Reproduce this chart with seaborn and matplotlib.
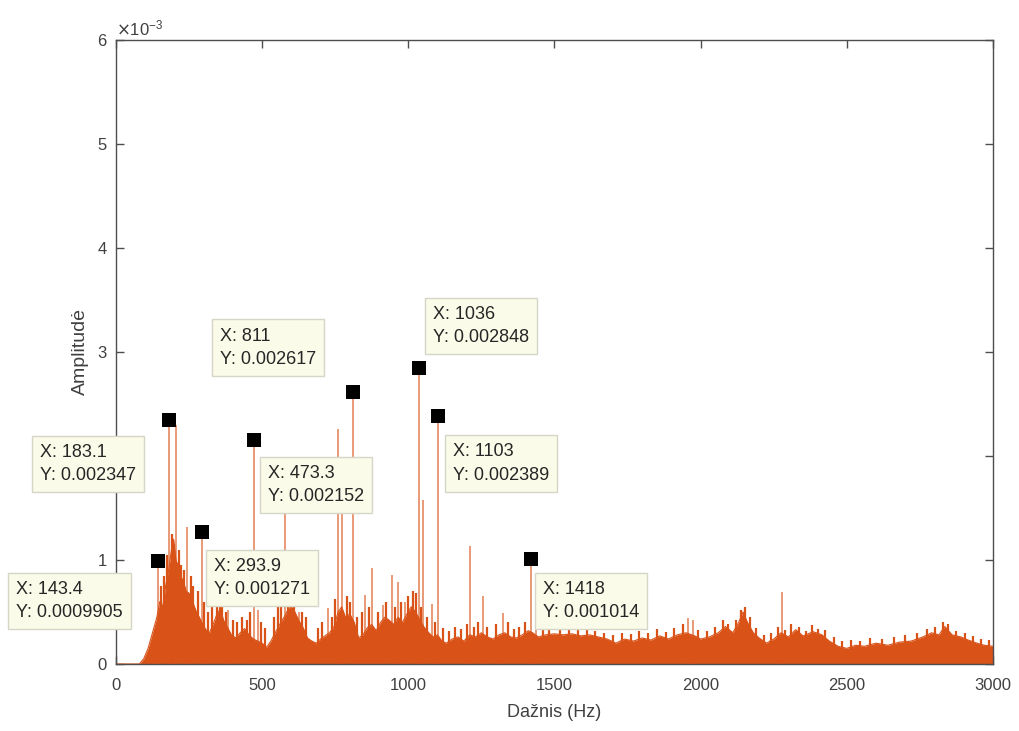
import numpy as np
import pandas as pd
import matplotlib
matplotlib.use("Agg")
import matplotlib.pyplot as plt
import seaborn as sns

# ---------------- data ----------------
# broadband spectrum envelope (Hz, amplitude)
env_freq = [0, 80, 95, 110, 125, 140, 150, 160, 170, 180, 190, 197, 205, 212, 220, 230,
            240, 250, 262, 275, 285, 297, 310, 320, 335, 348, 358, 368, 380, 395, 410,
            425, 440, 455, 470, 485, 500, 515, 530, 545, 560, 575, 590, 600, 612, 625,
            640, 655, 670, 685, 700, 715, 730, 745, 760, 772, 785, 800, 815, 830, 845,
            860, 875, 890, 905, 920, 935, 950, 965, 980, 995, 1010, 1025, 1040, 1055,
            1070, 1085, 1100, 1115, 1130, 1150, 1170, 1190, 1210, 1230, 1250, 1270, 1290,
            1310, 1330, 1350, 1370, 1390, 1410, 1425, 1445, 1470, 1500, 1530, 1560, 1590,
            1620, 1650, 1680, 1710, 1740, 1770, 1800, 1830, 1860, 1890, 1920, 1950, 1980,
            2000, 2030, 2060, 2085, 2110, 2130, 2145, 2160, 2180, 2200, 2225, 2250, 2275,
            2300, 2325, 2350, 2385, 2415, 2440, 2470, 2500, 2530, 2560, 2600, 2640, 2680,
            2720, 2760, 2790, 2815, 2835, 2860, 2890, 2915, 2945, 2970, 3000]
env_amp = [0.0, 0.0, 0.05e-3, 0.15e-3, 0.30e-3, 0.45e-3, 0.60e-3, 0.55e-3, 0.75e-3, 0.90e-3,
           1.10e-3, 1.20e-3, 1.00e-3, 0.95e-3, 0.85e-3, 0.80e-3, 0.70e-3, 0.68e-3, 0.60e-3,
           0.50e-3, 0.45e-3, 0.38e-3, 0.32e-3, 0.30e-3, 0.40e-3, 0.50e-3, 0.52e-3, 0.42e-3,
           0.36e-3, 0.28e-3, 0.25e-3, 0.30e-3, 0.34e-3, 0.28e-3, 0.24e-3, 0.22e-3, 0.20e-3,
           0.16e-3, 0.22e-3, 0.30e-3, 0.38e-3, 0.45e-3, 0.53e-3, 0.55e-3, 0.50e-3, 0.42e-3,
           0.35e-3, 0.25e-3, 0.22e-3, 0.20e-3, 0.24e-3, 0.27e-3, 0.30e-3, 0.35e-3, 0.50e-3,
           0.55e-3, 0.45e-3, 0.48e-3, 0.40e-3, 0.25e-3, 0.28e-3, 0.35e-3, 0.38e-3, 0.32e-3,
           0.40e-3, 0.45e-3, 0.42e-3, 0.38e-3, 0.45e-3, 0.40e-3, 0.48e-3, 0.55e-3, 0.50e-3,
           0.42e-3, 0.35e-3, 0.30e-3, 0.26e-3, 0.28e-3, 0.22e-3, 0.20e-3, 0.24e-3, 0.26e-3,
           0.22e-3, 0.28e-3, 0.26e-3, 0.30e-3, 0.26e-3, 0.24e-3, 0.28e-3, 0.30e-3, 0.26e-3,
           0.25e-3, 0.28e-3, 0.32e-3, 0.30e-3, 0.26e-3, 0.28e-3, 0.29e-3, 0.28e-3, 0.29e-3,
           0.27e-3, 0.28e-3, 0.26e-3, 0.24e-3, 0.20e-3, 0.24e-3, 0.22e-3, 0.25e-3, 0.23e-3,
           0.27e-3, 0.24e-3, 0.28e-3, 0.30e-3, 0.27e-3, 0.24e-3, 0.26e-3, 0.30e-3, 0.36e-3,
           0.30e-3, 0.40e-3, 0.50e-3, 0.40e-3, 0.30e-3, 0.25e-3, 0.20e-3, 0.24e-3, 0.30e-3,
           0.26e-3, 0.33e-3, 0.27e-3, 0.31e-3, 0.28e-3, 0.22e-3, 0.17e-3, 0.15e-3, 0.18e-3,
           0.17e-3, 0.20e-3, 0.18e-3, 0.21e-3, 0.22e-3, 0.26e-3, 0.30e-3, 0.28e-3, 0.36e-3,
           0.28e-3, 0.26e-3, 0.23e-3, 0.20e-3, 0.18e-3, 0.17e-3]

# small ragged lines riding on the broadband floor (Hz, amplitude)
minor_freq = [155, 165, 175, 190, 198, 215, 222, 232, 255, 265, 280, 300, 315, 330, 345,
              355, 362, 375, 400, 415, 432, 448, 460, 495, 510, 540, 555, 565, 590, 610,
              635, 650, 690, 705, 740, 750, 790, 800, 825, 840, 865, 895, 925, 955, 975,
              1000, 1015, 1025, 1045, 1065, 1092, 1120, 1140, 1160, 1180, 1200, 1225, 1240,
              1270, 1300, 1340, 1360, 1380, 1400, 1460, 1480, 1520, 1550, 1580, 1610, 1640,
              1670, 1700, 1730, 1760, 1790, 1820, 1850, 1880, 1910, 1940, 1990, 2020, 2050,
              2075, 2095, 2120, 2138, 2150, 2170, 2190, 2215, 2240, 2265, 2290, 2310, 2335,
              2360, 2380, 2400, 2425, 2455, 2485, 2515, 2545, 2580, 2620, 2660, 2700, 2740,
              2775, 2800, 2828, 2845, 2875, 2905, 2930, 2960, 2985]
minor_amp = [0.75e-3, 0.85e-3, 1.05e-3, 1.25e-3, 1.15e-3, 1.10e-3, 0.95e-3, 0.90e-3, 0.85e-3,
             0.75e-3, 0.70e-3, 0.60e-3, 0.50e-3, 0.55e-3, 0.62e-3, 0.60e-3, 0.55e-3, 0.50e-3,
             0.42e-3, 0.40e-3, 0.45e-3, 0.42e-3, 0.50e-3, 0.40e-3, 0.35e-3, 0.45e-3, 0.55e-3,
             0.60e-3, 0.68e-3, 0.62e-3, 0.50e-3, 0.45e-3, 0.35e-3, 0.40e-3, 0.45e-3, 0.62e-3,
             0.65e-3, 0.60e-3, 0.45e-3, 0.50e-3, 0.55e-3, 0.50e-3, 0.60e-3, 0.55e-3, 0.60e-3,
             0.65e-3, 0.70e-3, 0.68e-3, 0.55e-3, 0.45e-3, 0.40e-3, 0.35e-3, 0.32e-3, 0.36e-3,
             0.34e-3, 0.38e-3, 0.36e-3, 0.40e-3, 0.36e-3, 0.38e-3, 0.40e-3, 0.34e-3, 0.36e-3,
             0.40e-3, 0.36e-3, 0.35e-3, 0.34e-3, 0.36e-3, 0.34e-3, 0.35e-3, 0.32e-3, 0.30e-3,
             0.28e-3, 0.30e-3, 0.29e-3, 0.32e-3, 0.30e-3, 0.34e-3, 0.31e-3, 0.35e-3, 0.38e-3,
             0.33e-3, 0.32e-3, 0.36e-3, 0.42e-3, 0.38e-3, 0.42e-3, 0.52e-3, 0.55e-3, 0.45e-3,
             0.35e-3, 0.28e-3, 0.30e-3, 0.36e-3, 0.33e-3, 0.38e-3, 0.36e-3, 0.32e-3, 0.37e-3,
             0.34e-3, 0.33e-3, 0.26e-3, 0.22e-3, 0.23e-3, 0.22e-3, 0.25e-3, 0.24e-3, 0.26e-3,
             0.28e-3, 0.30e-3, 0.34e-3, 0.36e-3, 0.40e-3, 0.38e-3, 0.32e-3, 0.30e-3, 0.27e-3,
             0.24e-3, 0.23e-3]

# narrow spectral lines (Hz, amplitude)
spike_freq = [143.4, 183.1, 204, 243, 293.9, 384, 473.3, 486, 578, 600, 625, 726, 760, 773,
              811, 852, 876, 914, 944, 965, 988, 1036, 1050, 1081, 1103, 1211, 1256, 1324,
              1418, 1437, 1957, 1974, 2278]
spike_amp = [0.9905e-3, 2.347e-3, 2.30e-3, 1.32e-3, 1.271e-3, 0.52e-3, 2.152e-3, 0.52e-3,
             1.45e-3, 0.55e-3, 0.50e-3, 0.54e-3, 2.26e-3, 1.45e-3, 2.617e-3, 0.66e-3,
             0.92e-3, 0.57e-3, 0.86e-3, 0.79e-3, 0.60e-3, 2.848e-3, 1.58e-3, 0.58e-3,
             2.389e-3, 1.13e-3, 0.65e-3, 0.49e-3, 1.014e-3, 0.65e-3, 0.44e-3, 0.42e-3, 0.69e-3]

# data tips
tip_freq = [143.4, 183.1, 293.9, 473.3, 811, 1036, 1103, 1418]
tip_amp = [0.0009905, 0.002347, 0.001271, 0.002152, 0.002617, 0.002848, 0.002389, 0.001014]

x_ticks = [0, 500, 1000, 1500, 2000, 2500, 3000]
y_ticks = [0, 0.001, 0.002, 0.003, 0.004, 0.005, 0.006]
x_label = "Dažnis (Hz)"
y_label = "Amplitudė"

# ---------------- layout (text anchor of each data tip, data coords) ----------------
tip_text_pos = [(-342, 0.606e-3), (-260, 1.923e-3), (335, 0.827e-3), (520, 1.72e-3),
                (356, 3.04e-3), (1085, 3.25e-3), (1153, 1.93e-3), (1461, 0.606e-3)]

# ---------------- style ----------------
sns.set_theme(style="white")
plt.rcParams['font.family'] = ['Liberation Sans', 'DejaVu Sans']
color = "#D95319"
axis_gray = "#4d4d4d"

fig = plt.figure(figsize=(10.19, 7.31), dpi=100)
ax = fig.add_axes([0.1138, 0.0917, 0.9745 - 0.1138, 0.9453 - 0.0917])

env_df = pd.DataFrame({"freq": env_freq, "amp": env_amp})
ax.fill_between(env_df["freq"], 0, env_df["amp"], color=color, lw=0, zorder=2)
sns.lineplot(data=env_df, x="freq", y="amp", estimator=None, color=color, lw=0.8,
             ax=ax, zorder=2)

minor_df = pd.DataFrame({"freq": minor_freq, "amp": minor_amp})
ax.vlines(minor_df["freq"], 0, minor_df["amp"], color=color, lw=1.6, zorder=2)

spike_df = pd.DataFrame({"freq": spike_freq, "amp": spike_amp})
ax.vlines(spike_df["freq"], 0, spike_df["amp"], color=color, lw=1.1, alpha=0.75, zorder=3)

tip_df = pd.DataFrame({"freq": tip_freq, "amp": tip_amp})
sns.scatterplot(data=tip_df, x="freq", y="amp", marker="s", s=110, color="black",
                edgecolor="black", linewidth=0, ax=ax, zorder=6)

for f, a, (tx, ty) in zip(tip_freq, tip_amp, tip_text_pos):
    ax.text(tx, ty, f"X: {f:.4g}\nY: {a:.4g}", ha="left", va="center", fontsize=13,
            color="#262626", linespacing=1.5, zorder=7, clip_on=False,
            bbox=dict(boxstyle="square,pad=0.45", facecolor="#FBFBE9", edgecolor="#D6D6C8",
                      lw=1.0))

ax.set_xlim(0, 3000)
ax.set_ylim(0, 0.006)
ax.set_xticks(x_ticks)
ax.set_yticks(y_ticks)
ax.ticklabel_format(axis="y", style="sci", scilimits=(0, 0), useMathText=True)
ax.yaxis.get_offset_text().set_fontsize(12)
ax.yaxis.get_offset_text().set_color("#606060")

ax.set_xlabel(x_label, fontsize=13, color="#404040", labelpad=8)
ax.set_ylabel(y_label, fontsize=14, color="#404040", labelpad=6)

for sp in ax.spines.values():
    sp.set_visible(True)
    sp.set_color(axis_gray)
    sp.set_linewidth(1.0)
ax.tick_params(direction="in", length=6, width=1, colors=axis_gray, labelsize=12,
               top=True, right=True, bottom=True, left=True, pad=6)
ax.tick_params(axis="x", pad=10)
ax.tick_params(axis="both", labelcolor="#404040")
ax.grid(False)

fig.savefig("out.png", dpi=100)
